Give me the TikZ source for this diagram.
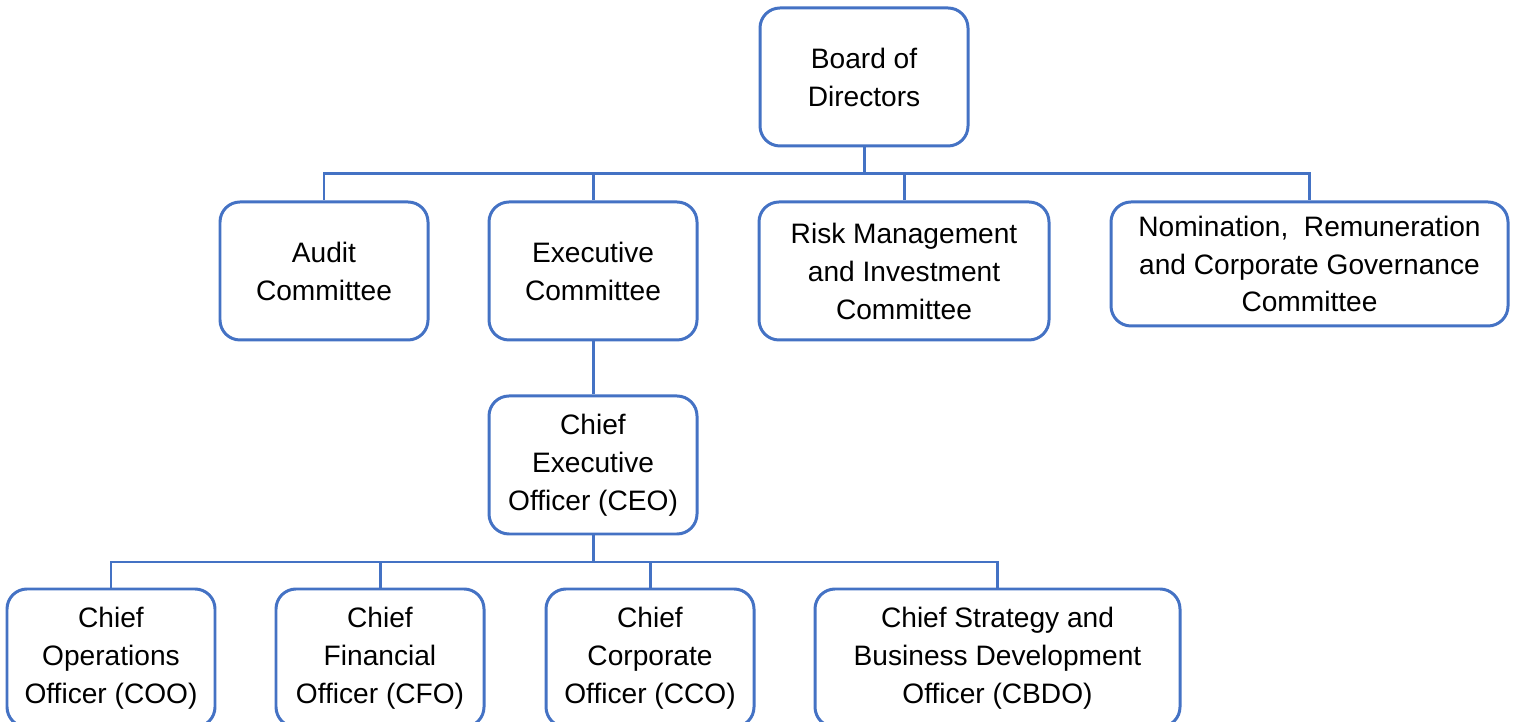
\documentclass[tikz,border=0pt]{standalone}
\usepackage{fontspec}
\setmainfont{Liberation Sans}
\usepackage{xcolor}
\usepackage{tikz}
\usetikzlibrary{positioning, calc}
\definecolor{orgblue}{RGB}{68, 114, 196}

\begin{document}
\begin{tikzpicture}[
    every node/.style={font=\fontsize{8}{10.8}\selectfont},
    unit/.style={rectangle, rounded corners=2mm, draw=orgblue, fill=white, line width=0.85pt, align=center, minimum width=2.08cm, minimum height=1.38cm, inner sep=0pt},
    link/.style={draw=orgblue, line width=0.85pt}
]
\useasboundingbox (0, 0) rectangle (15.16, 7.22);
\clip (0, 0) rectangle (15.16, 7.22);

% Row 1: Board
\node[unit] (board) at (8.64, 6.45) {Board of\\Directors};

% Row 2: Committees
\node[unit] (audit) at (3.24, 4.51) {Audit\\Committee};
\node[unit] (exco) at (5.93, 4.51) {Executive\\Committee};
\node[unit, minimum width=2.90cm] (risk) at (9.04, 4.51) {Risk Management\\and Investment\\Committee};
\node[unit, minimum width=3.97cm, minimum height=1.24cm] (nrcg) at (13.095, 4.58) {Nomination,\ \ Remuneration\\and Corporate Governance\\Committee};

% Row 3: CEO
\node[unit] (ceo) at (5.93, 2.57) {Chief\\Executive\\Officer (CEO)};

% Row 4: Chief officers (bottom edge runs off the page)
\node[unit] (coo) at (1.11, 0.64) {Chief\\Operations\\Officer (COO)};
\node[unit] (cfo) at (3.80, 0.64) {Chief\\Financial\\Officer (CFO)};
\node[unit] (cco) at (6.50, 0.64) {Chief\\Corporate\\Officer (CCO)};
\node[unit, minimum width=3.65cm] (cbdo) at (9.975, 0.64) {Chief Strategy and\\Business Development\\Officer (CBDO)};

% Bus lines
\coordinate (bus1) at (8.64, 5.48);
\coordinate (bus2) at (5.93, 1.60);

% Board to committees
\draw[link] (board.south) -- (bus1);
\draw[link] (bus1) -| (audit.north);
\draw[link] (bus1) -| (exco.north);
\draw[link] (bus1) -| (risk.north);
\draw[link] (bus1) -| (nrcg.north);

% Executive Committee to CEO
\draw[link] (exco.south) -- (ceo.north);

% CEO to chief officers
\draw[link] (ceo.south) -- (bus2);
\draw[link] (bus2) -| (coo.north);
\draw[link] (bus2) -| (cfo.north);
\draw[link] (bus2) -| (cco.north);
\draw[link] (bus2) -| (cbdo.north);

\end{tikzpicture}
\end{document}
